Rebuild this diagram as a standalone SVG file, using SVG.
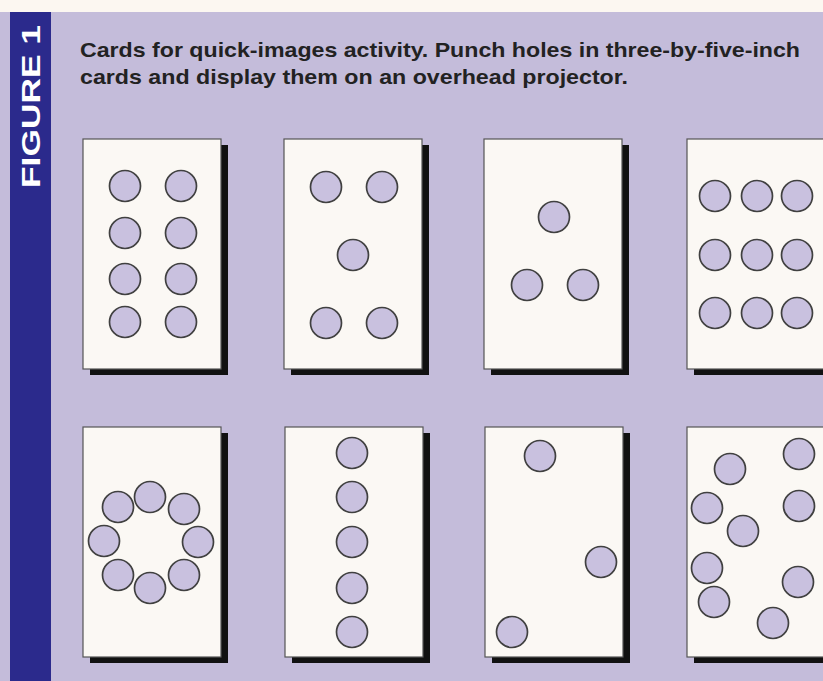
<svg xmlns="http://www.w3.org/2000/svg" width="823" height="681" viewBox="0 0 823 681">
<style>
.shadow{fill:#111}
.card{fill:#fbf8f4;stroke:#555;stroke-width:1.2}
.hole{fill:#c9c1df;stroke:#404040;stroke-width:1.7}
.title{font-family:"Liberation Sans",Arial,sans-serif;font-weight:bold;font-size:21px;fill:#222}
.fig{font-family:"Liberation Sans",Arial,sans-serif;font-weight:bold;font-size:26px;fill:#fff}
</style>
<defs>
<g id="cardshape">
<rect class="shadow" x="7" y="6" width="138" height="230"/>
<rect class="card" x="0" y="0" width="138" height="230"/>
</g>
</defs>
<rect x="0" y="0" width="823" height="681" fill="#fcf7f1"/>
<rect x="0" y="12" width="823" height="669" fill="#c4bcda"/>
<g id="figure-label">
<rect x="10" y="12" width="41" height="669" fill="#2b2a8c"/>
<text class="fig" transform="translate(40,188) rotate(-90)" textLength="163" lengthAdjust="spacingAndGlyphs">FIGURE 1</text>
</g>
<g id="title">
<text class="title" x="80" y="57" textLength="720" lengthAdjust="spacingAndGlyphs">Cards for quick-images activity. Punch holes in three-by-five-inch</text>
<text class="title" x="80" y="84" textLength="548" lengthAdjust="spacingAndGlyphs">cards and display them on an overhead projector.</text>
</g>
<g id="card1">
<use href="#cardshape" x="83" y="139"/>
<circle class="hole" cx="125" cy="186" r="15.5"/>
<circle class="hole" cx="181" cy="186" r="15.5"/>
<circle class="hole" cx="125" cy="233" r="15.5"/>
<circle class="hole" cx="181" cy="233" r="15.5"/>
<circle class="hole" cx="125" cy="279" r="15.5"/>
<circle class="hole" cx="181" cy="279" r="15.5"/>
<circle class="hole" cx="125" cy="322" r="15.5"/>
<circle class="hole" cx="181" cy="322" r="15.5"/>
</g>
<g id="card2">
<use href="#cardshape" x="284" y="139"/>
<circle class="hole" cx="326" cy="187" r="15.5"/>
<circle class="hole" cx="382" cy="187" r="15.5"/>
<circle class="hole" cx="353" cy="255" r="15.5"/>
<circle class="hole" cx="326" cy="323" r="15.5"/>
<circle class="hole" cx="382" cy="323" r="15.5"/>
</g>
<g id="card3">
<use href="#cardshape" x="484" y="139"/>
<circle class="hole" cx="554" cy="217" r="15.5"/>
<circle class="hole" cx="527" cy="285" r="15.5"/>
<circle class="hole" cx="583" cy="285" r="15.5"/>
</g>
<g id="card4">
<use href="#cardshape" x="687" y="139"/>
<circle class="hole" cx="715" cy="196" r="15.5"/>
<circle class="hole" cx="757" cy="196" r="15.5"/>
<circle class="hole" cx="797" cy="196" r="15.5"/>
<circle class="hole" cx="715" cy="255" r="15.5"/>
<circle class="hole" cx="757" cy="255" r="15.5"/>
<circle class="hole" cx="797" cy="255" r="15.5"/>
<circle class="hole" cx="715" cy="313" r="15.5"/>
<circle class="hole" cx="757" cy="313" r="15.5"/>
<circle class="hole" cx="797" cy="313" r="15.5"/>
</g>
<g id="card5">
<use href="#cardshape" x="83" y="427"/>
<circle class="hole" cx="118" cy="507" r="15.5"/>
<circle class="hole" cx="150" cy="497" r="15.5"/>
<circle class="hole" cx="184" cy="509" r="15.5"/>
<circle class="hole" cx="104" cy="541" r="15.5"/>
<circle class="hole" cx="198" cy="542" r="15.5"/>
<circle class="hole" cx="118" cy="575" r="15.5"/>
<circle class="hole" cx="150" cy="588" r="15.5"/>
<circle class="hole" cx="184" cy="575" r="15.5"/>
</g>
<g id="card6">
<use href="#cardshape" x="285" y="427"/>
<circle class="hole" cx="352" cy="453" r="15.5"/>
<circle class="hole" cx="352" cy="497" r="15.5"/>
<circle class="hole" cx="352" cy="542" r="15.5"/>
<circle class="hole" cx="352" cy="588" r="15.5"/>
<circle class="hole" cx="352" cy="632" r="15.5"/>
</g>
<g id="card7">
<use href="#cardshape" x="485" y="427"/>
<circle class="hole" cx="540" cy="456" r="15.5"/>
<circle class="hole" cx="601" cy="562" r="15.5"/>
<circle class="hole" cx="512" cy="632" r="15.5"/>
</g>
<g id="card8">
<use href="#cardshape" x="687" y="427"/>
<circle class="hole" cx="730" cy="469" r="15.5"/>
<circle class="hole" cx="799" cy="454" r="15.5"/>
<circle class="hole" cx="707" cy="508" r="15.5"/>
<circle class="hole" cx="799" cy="506" r="15.5"/>
<circle class="hole" cx="743" cy="531" r="15.5"/>
<circle class="hole" cx="707" cy="568" r="15.5"/>
<circle class="hole" cx="714" cy="602" r="15.5"/>
<circle class="hole" cx="798" cy="582" r="15.5"/>
<circle class="hole" cx="773" cy="623" r="15.5"/>
</g>
<g id="connectors"/>
</svg>
